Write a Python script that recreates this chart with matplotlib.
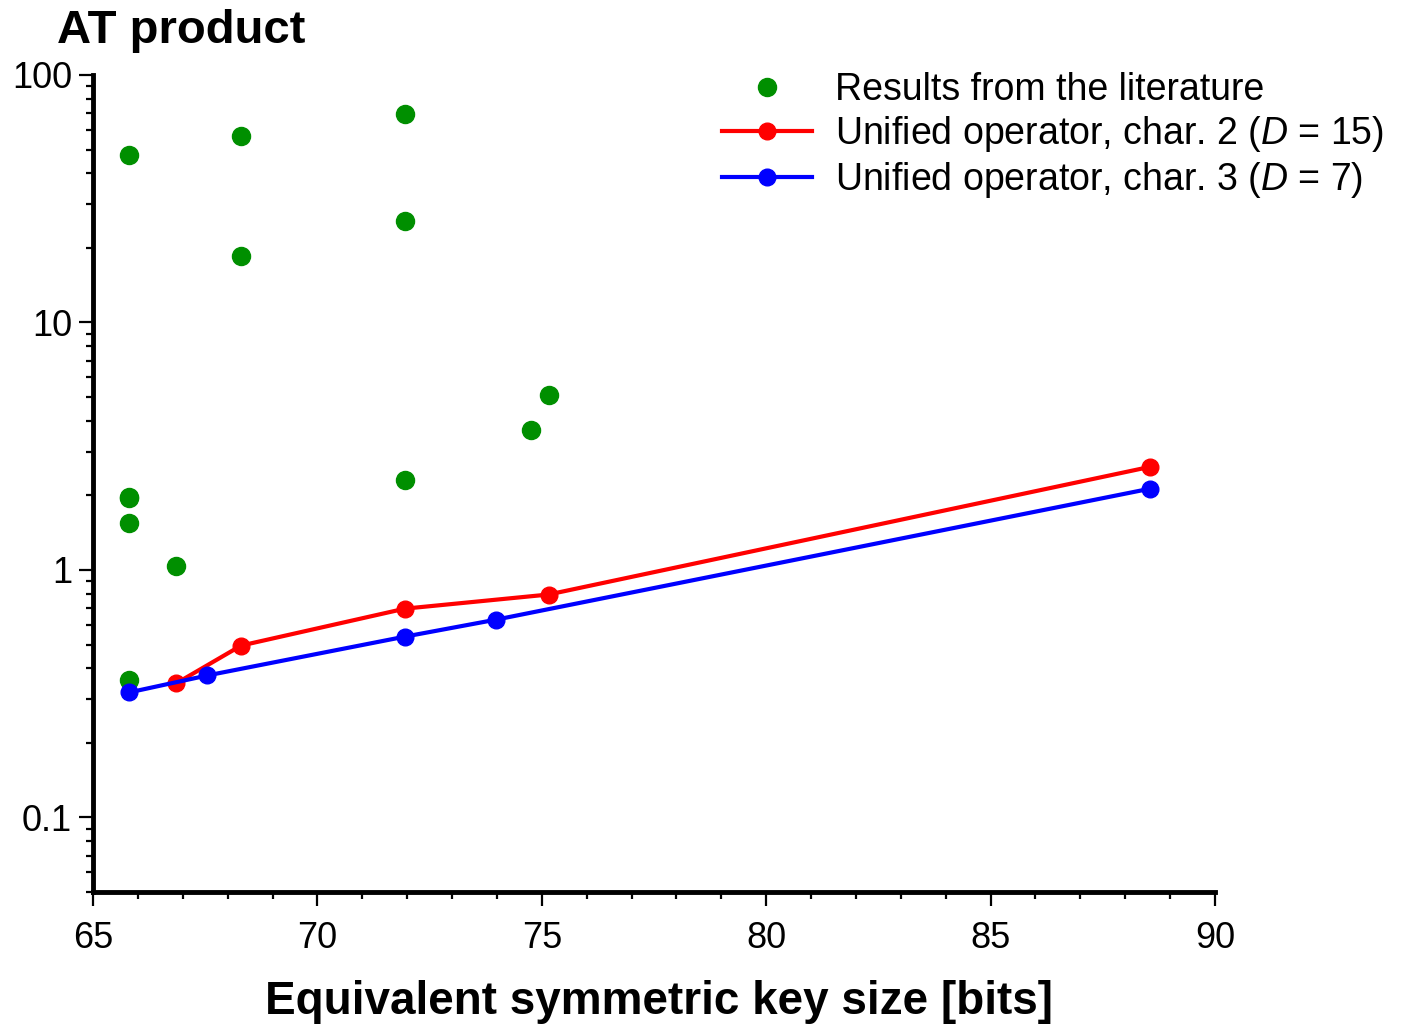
import numpy as np
import matplotlib
matplotlib.use("Agg")
from matplotlib import pyplot as plt
from matplotlib.ticker import MultipleLocator, LogLocator, NullFormatter, FixedLocator, FixedFormatter

plt.rcParams['font.family'] = ['Liberation Sans', 'DejaVu Sans']
plt.rcParams['mathtext.fontset'] = 'custom'
plt.rcParams['mathtext.rm'] = 'Liberation Sans'
plt.rcParams['mathtext.it'] = 'Liberation Sans:italic'

# literature results
lit_x = [65.8, 65.8, 65.8, 65.8, 65.8, 66.85, 68.3, 68.3, 71.95, 71.95, 71.95, 74.75, 75.15]
lit_y = [47.5, 1.98, 1.95, 1.55, 0.36, 1.04, 56.8, 18.6, 69.6, 25.8, 2.32, 3.69, 5.1]

# unified operator, char. 2 (D = 15)
c2_x = [66.85, 68.3, 71.95, 75.15, 88.55]
c2_y = [0.348, 0.495, 0.698, 0.796, 2.61]

# unified operator, char. 3 (D = 7)
c3_x = [65.8, 67.55, 71.95, 73.98, 88.55]
c3_y = [0.32, 0.375, 0.538, 0.63, 2.13]

green = '#008F00'

fig = plt.figure(figsize=(14.22, 10.25), dpi=100)
ax = fig.add_axes([93 / 1422, 1 - 892 / 1025, (1215 - 93) / 1422, (892 - 75) / 1025])

l0, = ax.plot(lit_x, lit_y, linestyle='none', marker='o', color=green, markersize=13)
l1, = ax.plot(c2_x, c2_y, color='#FF0000', linewidth=3, marker='o', markersize=12)
l2, = ax.plot(c3_x, c3_y, color='#0000FF', linewidth=3, marker='o', markersize=12)

ax.set_yscale('log')
ax.set_xlim(65, 90)
ax.set_ylim(0.05, 100)

ax.xaxis.set_major_locator(MultipleLocator(5))
ax.xaxis.set_minor_locator(MultipleLocator(1))
ax.yaxis.set_major_locator(FixedLocator([0.1, 1, 10, 100]))
ax.yaxis.set_major_formatter(FixedFormatter(['0.1', '1', '10', '100']))
ax.yaxis.set_minor_locator(LogLocator(base=10, subs=np.arange(2, 10)))
ax.yaxis.set_minor_formatter(NullFormatter())

for s in ['top', 'right']:
    ax.spines[s].set_visible(False)
for s in ['left', 'bottom']:
    ax.spines[s].set_linewidth(3.5)

ax.tick_params(which='major', direction='out', length=10, width=1.6, labelsize=26, pad=5)
ax.tick_params(which='minor', direction='out', length=5, width=1.6)
ax.tick_params(axis='x', which='major', pad=11)

fig.text(57 / 1422, 1 - 43 / 1025, 'AT product', fontsize=34, fontweight='bold', va='baseline', ha='left')
fig.text(659 / 1422, 1 - 1014 / 1025, 'Equivalent symmetric key size [bits]', fontsize=33,
         fontweight='bold', va='baseline', ha='center')

fig.legend(handles=[l0, l1, l2],
           labels=['Results from the literature',
                   'Unified operator, char. 2 ($D$ = 15)',
                   'Unified operator, char. 3 ($D$ = 7)'],
           loc='upper left', bbox_to_anchor=(722 / 1422, 1 - 72 / 1025), frameon=False,
           fontsize=27, handlelength=2.4, handletextpad=0.62, labelspacing=0.16, borderpad=0,
           borderaxespad=0)

plt.savefig('out.png', dpi=100)
